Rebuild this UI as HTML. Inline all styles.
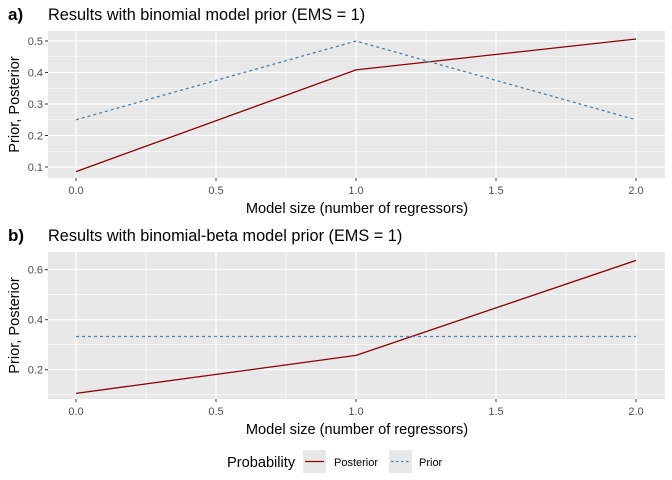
<!DOCTYPE html><html><head><style>body{margin:0;background:#fff}svg{display:block}text{font-family:"Liberation Sans",Arial,sans-serif}</style></head><body>
<svg width="672" height="480" viewBox="0 0 672 480">
<g id="a">
<rect x="48" y="31" width="617" height="147" fill="#e8e8e8"/>
<g stroke="#fff" stroke-width="0.6">
<line x1="48" x2="665" y1="151.25" y2="151.25"/><line x1="48" x2="665" y1="119.75" y2="119.75"/><line x1="48" x2="665" y1="88.25" y2="88.25"/><line x1="48" x2="665" y1="56.75" y2="56.75"/>
<line x1="146" x2="146" y1="31" y2="178"/><line x1="286" x2="286" y1="31" y2="178"/><line x1="426" x2="426" y1="31" y2="178"/><line x1="566" x2="566" y1="31" y2="178"/>
</g>
<g stroke="#fff" stroke-width="1.2">
<line x1="48" x2="665" y1="167" y2="167"/><line x1="48" x2="665" y1="135.5" y2="135.5"/><line x1="48" x2="665" y1="104" y2="104"/><line x1="48" x2="665" y1="72.5" y2="72.5"/><line x1="48" x2="665" y1="41" y2="41"/>
<line x1="76" x2="76" y1="31" y2="178"/><line x1="216" x2="216" y1="31" y2="178"/><line x1="356" x2="356" y1="31" y2="178"/><line x1="496" x2="496" y1="31" y2="178"/><line x1="636" x2="636" y1="31" y2="178"/>
</g>
<polyline points="76,171.6 356,69.9 636,39" fill="none" stroke="#8b0000" stroke-width="1.3"/>
<polyline points="76,119.75 356,41 636,119.75" fill="none" stroke="#4682b4" stroke-width="1.3" stroke-dasharray="3,3"/>
<g stroke="#333" stroke-width="1"><line x1="45" x2="48" y1="167" y2="167"/><line x1="45" x2="48" y1="135.5" y2="135.5"/><line x1="45" x2="48" y1="104" y2="104"/><line x1="45" x2="48" y1="72.5" y2="72.5"/><line x1="45" x2="48" y1="41" y2="41"/>
<line x1="76" x2="76" y1="178" y2="181"/><line x1="216" x2="216" y1="178" y2="181"/><line x1="356" x2="356" y1="178" y2="181"/><line x1="496" x2="496" y1="178" y2="181"/><line x1="636" x2="636" y1="178" y2="181"/></g>
<g font-size="11" fill="#4d4d4d" text-anchor="end"><text x="43" y="171">0.1</text><text x="43" y="139.5">0.2</text><text x="43" y="108">0.3</text><text x="43" y="76.5">0.4</text><text x="43" y="45">0.5</text></g>
<g font-size="11" fill="#4d4d4d" text-anchor="middle"><text x="76" y="194">0.0</text><text x="216" y="194">0.5</text><text x="356" y="194">1.0</text><text x="496" y="194">1.5</text><text x="636" y="194">2.0</text></g>
<text x="357" y="213" font-size="14.6" text-anchor="middle">Model size (number of regressors)</text>
<text transform="translate(19,104.5) rotate(-90)" font-size="14.6" text-anchor="middle">Prior, Posterior</text>
<text x="8" y="20" font-size="17" font-weight="bold">a)</text>
<text x="48" y="20" font-size="16.3">Results with binomial model prior (EMS = 1)</text>
</g>
<g id="b">
<rect x="48" y="252" width="617" height="147" fill="#e8e8e8"/>
<g stroke="#fff" stroke-width="0.6">
<line x1="48" x2="665" y1="394.7" y2="394.7"/><line x1="48" x2="665" y1="344.7" y2="344.7"/><line x1="48" x2="665" y1="294.7" y2="294.7"/>
<line x1="146" x2="146" y1="252" y2="399"/><line x1="286" x2="286" y1="252" y2="399"/><line x1="426" x2="426" y1="252" y2="399"/><line x1="566" x2="566" y1="252" y2="399"/>
</g>
<g stroke="#fff" stroke-width="1.2">
<line x1="48" x2="665" y1="369.7" y2="369.7"/><line x1="48" x2="665" y1="319.7" y2="319.7"/><line x1="48" x2="665" y1="269.7" y2="269.7"/>
<line x1="76" x2="76" y1="252" y2="399"/><line x1="216" x2="216" y1="252" y2="399"/><line x1="356" x2="356" y1="252" y2="399"/><line x1="496" x2="496" y1="252" y2="399"/><line x1="636" x2="636" y1="252" y2="399"/>
</g>
<polyline points="76,393.4 356,355.4 636,260.4" fill="none" stroke="#8b0000" stroke-width="1.3"/>
<line x1="76" x2="636" y1="336.5" y2="336.5" stroke="#4682b4" stroke-width="1.3" stroke-dasharray="3,3"/>
<g stroke="#333" stroke-width="1"><line x1="45" x2="48" y1="369.7" y2="369.7"/><line x1="45" x2="48" y1="319.7" y2="319.7"/><line x1="45" x2="48" y1="269.7" y2="269.7"/>
<line x1="76" x2="76" y1="399" y2="402"/><line x1="216" x2="216" y1="399" y2="402"/><line x1="356" x2="356" y1="399" y2="402"/><line x1="496" x2="496" y1="399" y2="402"/><line x1="636" x2="636" y1="399" y2="402"/></g>
<g font-size="11" fill="#4d4d4d" text-anchor="end"><text x="43" y="373.7">0.2</text><text x="43" y="323.7">0.4</text><text x="43" y="273.7">0.6</text></g>
<g font-size="11" fill="#4d4d4d" text-anchor="middle"><text x="76" y="415">0.0</text><text x="216" y="415">0.5</text><text x="356" y="415">1.0</text><text x="496" y="415">1.5</text><text x="636" y="415">2.0</text></g>
<text x="357" y="434" font-size="14.6" text-anchor="middle">Model size (number of regressors)</text>
<text transform="translate(19,325.5) rotate(-90)" font-size="14.6" text-anchor="middle">Prior, Posterior</text>
<text x="8" y="241" font-size="17" font-weight="bold">b)</text>
<text x="48" y="241" font-size="16.3">Results with binomial-beta model prior (EMS = 1)</text>
</g>
<text x="227" y="467" font-size="14.6">Probability</text>
<rect x="303" y="450" width="23" height="23" fill="#e8e8e8"/>
<line x1="305" x2="324" y1="461.5" y2="461.5" stroke="#8b0000" stroke-width="1.3"/>
<text x="334" y="466" font-size="11">Posterior</text>
<rect x="389" y="450" width="23" height="23" fill="#e8e8e8"/>
<line x1="391" x2="410" y1="461.5" y2="461.5" stroke="#4682b4" stroke-width="1.3" stroke-dasharray="2.5,2.5"/>
<text x="419" y="466" font-size="11">Prior</text>
</svg></body></html>
